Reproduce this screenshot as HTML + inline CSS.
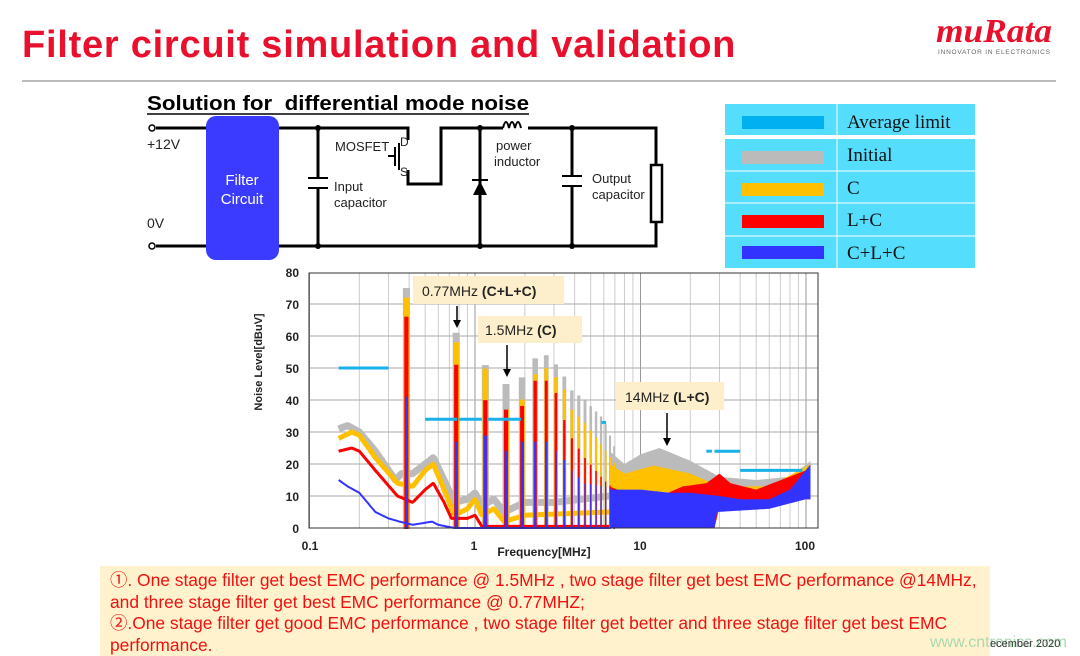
<!DOCTYPE html>
<html><head><meta charset="utf-8"><style>
body{margin:0;width:1080px;height:656px;background:#fff;overflow:hidden;position:relative;font-family:"Liberation Sans",sans-serif}
.t{position:absolute;white-space:nowrap}
</style></head><body>
<div class="t" style="left:22px;top:24px;font-size:38px;font-weight:bold;color:#e8102c;letter-spacing:0.75px">Filter circuit simulation and validation</div>
<div style="position:absolute;left:22px;top:80px;width:1034px;height:2px;background:#bbb"></div>

<svg width="1080" height="656" style="position:absolute;left:0;top:0" id="s">
<text x="936" y="42" font-size="34" font-weight="bold" font-style="italic" fill="#e8102c" font-family="Liberation Serif" textLength="116" lengthAdjust="spacingAndGlyphs">muRata</text>
<text x="938" y="54" font-size="6.5" fill="#666" font-family="Liberation Sans" textLength="112">INNOVATOR IN ELECTRONICS</text>
<text x="147" y="110" font-size="20" font-weight="bold" font-family="Liberation Sans" textLength="382" lengthAdjust="spacingAndGlyphs">Solution for&#160; differential mode noise</text>
<line x1="147" y1="114" x2="529" y2="114" stroke="#000" stroke-width="1.5"/>
<g stroke="#000" stroke-width="3" fill="none">
<path d="M156 128 H408 V140"/><path d="M156 246 H656 V128 H528"/>
<path d="M408 170 V184 H441 V128 H503"/>
<path d="M318 128 V178 M318 188 V246"/>
<path d="M480 128 V246"/><path d="M572 128 V176 M572 186 V246"/>
</g>
<g stroke="#000" stroke-width="2" fill="none">
<path d="M308 178 H328 M308 188 H328 M562 176 H582 M562 186 H582"/>
<path d="M395 147 V166 M399 143 V170 M388 156 H395"/>
<path d="M503 128 q3 -12 6 0 q3 -12 6 0 q3 -12 6 0"/>
</g>
<polygon points="473,195 487,195 480,181" fill="#000"/><line x1="472" y1="180" x2="488" y2="180" stroke="#000" stroke-width="2"/>
<rect x="651" y="165" width="11" height="57" fill="#fff" stroke="#000" stroke-width="2.5"/>
<circle cx="152" cy="128" r="3" fill="#fff" stroke="#000" stroke-width="1.5"/><circle cx="152" cy="246" r="3" fill="#fff" stroke="#000" stroke-width="1.5"/>
<g fill="#000"><circle cx="318" cy="128" r="3"/><circle cx="318" cy="246" r="3"/><circle cx="480" cy="128" r="3"/><circle cx="480" cy="246" r="3"/><circle cx="572" cy="128" r="3"/><circle cx="572" cy="246" r="3"/></g>
<rect x="206" y="116" width="73" height="144" rx="10" fill="#3b3bff"/>
<g font-size="14" font-family="Liberation Sans" fill="#222">
<text x="147" y="149">+12V</text><text x="147" y="228">0V</text>
<text x="335" y="151" font-size="13">MOSFET</text><text x="400" y="146" font-size="12">D</text><text x="400" y="176" font-size="12">S</text>
<text x="334" y="191" font-size="13">Input</text><text x="334" y="207" font-size="13">capacitor</text>
<text x="496" y="150" font-size="13">power</text><text x="494" y="166" font-size="13">inductor</text>
<text x="592" y="183" font-size="13">Output</text><text x="592" y="199" font-size="13">capacitor</text>
</g>
<text x="242" y="185" font-size="15" fill="#fff" text-anchor="middle">Filter</text>
<text x="242" y="204" font-size="15" fill="#fff" text-anchor="middle">Circuit</text>

<g fill="#55ddfd"><rect x="725" y="104" width="250" height="31"/><rect x="725" y="139" width="250" height="129"/></g>
<g stroke="#fff" stroke-width="1"><line x1="837" y1="104" x2="837" y2="268"/><line x1="725" y1="171" x2="975" y2="171"/><line x1="725" y1="203" x2="975" y2="203"/><line x1="725" y1="236" x2="975" y2="236"/></g>
<rect x="742" y="116" width="82" height="13" fill="#00b0f0"/><rect x="742" y="151" width="82" height="13" fill="#bbb"/>
<rect x="742" y="183" width="82" height="13" fill="#ffc000"/><rect x="742" y="215" width="82" height="13" fill="#ff0000"/><rect x="742" y="246" width="82" height="13" fill="#3333ff"/>
<g font-family="Liberation Serif" font-size="19" fill="#111"><text x="847" y="128">Average limit</text><text x="847" y="161">Initial</text><text x="847" y="194">C</text><text x="847" y="226">L+C</text><text x="847" y="259">C+L+C</text></g>

<defs><clipPath id="cp"><rect x="309" y="273" width="509" height="256"/></clipPath></defs>
<g id="grid"></g>
<g id="ser" clip-path="url(#cp)"></g>
<rect x="309" y="273" width="509" height="255" fill="none" stroke="#333" stroke-width="1"/>
<g font-size="12" font-weight="bold" font-family="Liberation Sans" fill="#222" text-anchor="end">
<text x="299" y="277">80</text><text x="299" y="309">70</text><text x="299" y="341">60</text><text x="299" y="373">50</text><text x="299" y="405">40</text><text x="299" y="437">30</text><text x="299" y="469">20</text><text x="299" y="501">10</text><text x="299" y="533">0</text></g>
<g font-size="12" font-weight="bold" font-family="Liberation Sans" fill="#222" text-anchor="middle">
<text x="310" y="550">0.1</text><text x="474" y="550">1</text><text x="640" y="550">10</text><text x="805" y="550">100</text></g>
<text x="544" y="556" font-size="12" font-weight="bold" text-anchor="middle" fill="#222">Frequency[MHz]</text>
<text transform="translate(262,362) rotate(-90)" font-size="11" font-weight="bold" text-anchor="middle" fill="#222">Noise Level[dBuV]</text>
<g fill="#fdefcb"><rect x="413" y="276" width="151" height="28"/><rect x="478" y="316" width="104" height="27"/><rect x="616" y="382" width="108" height="28"/></g>
<g font-size="14" font-family="Liberation Sans" fill="#222"><text x="422" y="296">0.77MHz <tspan font-weight="bold">(C+L+C)</tspan></text><text x="485" y="335">1.5MHz <tspan font-weight="bold">(C)</tspan></text><text x="625" y="402">14MHz <tspan font-weight="bold">(L+C)</tspan></text></g>
<g stroke="#000" stroke-width="1.5"><line x1="457" y1="306" x2="457" y2="322"/><line x1="507" y1="345" x2="507" y2="371"/><line x1="667" y1="413" x2="667" y2="440"/></g>
<g fill="#000"><polygon points="453,320 461,320 457,328"/><polygon points="503,369 511,369 507,377"/><polygon points="663,438 671,438 667,446"/></g>
</svg>

<div style="position:absolute;left:100px;top:566px;width:890px;height:90px;background:#fff2cc"></div>
<div class="t" style="left:110px;top:570px;font-size:17.4px;line-height:21.5px;color:#f01010;font-family:'Liberation Sans','Noto Sans CJK SC',sans-serif">①. One stage filter get best EMC performance @ 1.5MHz , two stage filter get best EMC performance @14MHz,<br>and three stage filter get best EMC performance @ 0.77MHZ;<br>②.One stage filter get good EMC performance , two stage filter get better and three stage filter get best EMC<br>performance.</div>
<div class="t" style="left:930px;top:634px;font-size:16px;color:#aad8b0">www.cntronics.com</div>
<div class="t" style="left:990px;top:638px;font-size:11px;color:#333">ecember 2020</div>

<script>
var NS="http://www.w3.org/2000/svg";
function X(f){return 309.5+165.5*Math.log10(f/0.1)}
function Y(v){return 528-3.2*v}
function el(p,t,a){var e=document.createElementNS(NS,t);for(var k in a)e.setAttribute(k,a[k]);p.appendChild(e);return e}
function ip(pts,f){var l=Math.log10(f);if(f<=pts[0][0])return pts[0][1];for(var i=1;i<pts.length;i++){if(f<=pts[i][0]){var a=Math.log10(pts[i-1][0]),b=Math.log10(pts[i][0]);return pts[i-1][1]+(pts[i][1]-pts[i-1][1])*(l-a)/(b-a)}}return pts[pts.length-1][1]}
var g=document.getElementById('grid');
for(var d=-1;d<=2;d++)for(var k=1;k<10;k++){var f=k*Math.pow(10,d);if(f<0.1||f>108)continue;var x=X(f);el(g,'line',{x1:x,x2:x,y1:273,y2:528,stroke:k==1?'#999':'#ccc','stroke-width':1})}
for(var v=10;v<80;v+=10)el(g,'line',{x1:309,x2:818,y1:Y(v),y2:Y(v),stroke:'#aaa','stroke-width':1});
var S=[
{c:'#bbb',w:7,k:1,base:[[0.15,31],[0.17,32],[0.2,30],[0.25,24],[0.33,15],[0.36,17],[0.42,17],[0.5,20],[0.56,22],[0.65,15],[0.75,8],[0.9,9],[1,11],[1.1,7],[1.3,9],[1.5,5],[2,8],[3,8],[6.5,10]],
pk:[[0.385,75],[0.77,61],[1.15,51],[1.54,45],[1.92,47],[2.3,53],[2.7,54],[3.1,51],[3.5,47],[3.85,43],[4.6,40],[6,34],[7,25]],
top:[[6.5,24],[8,20],[10,23],[13,25],[20,21],[30,16],[50,15],[80,16],[107,21]],bot:[[6.5,0],[28,0],[30,6],[100,10]]},
{c:'#ffc000',w:5,k:0.8,base:[[0.15,28],[0.18,30],[0.2,29],[0.25,22],[0.34,14],[0.42,13],[0.5,18],[0.56,20],[0.65,12],[0.75,4],[0.9,6],[1,9],[1.1,4],[1.3,6],[1.5,2],[2,4],[6.5,5]],
pk:[[0.385,72],[0.77,58],[1.15,50],[1.54,37],[1.92,40],[2.3,48],[2.7,50],[3.1,47],[3.5,43],[3.85,37],[4.6,33],[6,25],[7,20]],
top:[[6.5,20],[8,17],[12,19.5],[20,17],[30,13],[60,13],[107,20]],bot:[[6.5,0],[28,0],[30,6],[100,10]]},
{c:'#ff0000',w:3,k:0.6,base:[[0.15,24],[0.18,25],[0.2,24],[0.25,18],[0.34,10],[0.42,8],[0.5,12],[0.56,14],[0.65,8],[0.72,3],[0.9,3],[1,4],[1.1,0.5],[6.5,0.5]],
pk:[[0.385,66],[0.77,51],[1.15,40],[1.54,37],[1.92,38],[2.3,46],[2.7,46],[3.1,42],[3.5,33],[3.85,28],[4.6,22],[6,15],[7,12]],
top:[[6.5,13],[9,10],[12,9],[18,13],[25,14],[30,17],[35,14],[50,12],[100,18],[107,19]],bot:[[6.5,0],[28,0],[30,7],[100,9]]},
{c:'#3333ff',w:2,k:0.4,base:[[0.15,15],[0.17,13],[0.2,11],[0.25,5],[0.3,3],[0.35,2],[0.42,1],[0.55,2],[0.6,1],[0.75,0],[6.5,0]],
pk:[[0.385,41],[0.77,27],[1.15,29],[1.54,24],[1.92,27],[2.3,27],[2.7,27],[3.1,24],[3.5,21],[3.85,18],[4.6,14],[6,13],[7,12]],
top:[[6.5,12],[10,12],[15,11],[20,11],[30,10],[40,9],[60,9],[80,12],[107,20]],bot:[[6.5,0],[28,0],[29,5],[60,6],[100,9]]}];
var sg=document.getElementById('ser');
S.forEach(function(s){
 var p='';for(var f=0.15;f<=6.5;f*=1.01)p+=(p?'L':'M')+X(f).toFixed(1)+' '+Y(ip(s.base,f)).toFixed(1);
 el(sg,'path',{d:p,fill:'none',stroke:s.c,'stroke-width':s.w,'stroke-linejoin':'round'});
 for(var n=1;n<=18;n++){var f=0.385*n,x=X(f),sp=165.5*Math.log10((n+1)/n);var w=Math.min(7,Math.max(1.5,sp*0.5))*s.k;
  w=Math.max(w,1.2);
  el(sg,'line',{x1:x,x2:x,y1:529,y2:Y(ip(s.pk,f)),stroke:s.c,'stroke-width':w});}
 var a=[],b=[];for(var f=6.5;f<=107.5;f*=1.01){a.push(X(f).toFixed(1)+','+Y(ip(s.top,f)).toFixed(1));b.unshift(X(f).toFixed(1)+','+Y(ip(s.bot,f)).toFixed(1));}
 el(sg,'polygon',{points:a.concat(b).join(' '),fill:s.c});
});
var L=[[0.15,0.3,50],[0.5,0.78,34],[0.8,1.1,34],[1.2,1.9,34],[5.8,6.2,33],[25,27,24],[28,40,24],[40,95,18]];
L.forEach(function(l){el(sg,'line',{x1:X(l[0]),x2:X(l[1]),y1:Y(l[2]),y2:Y(l[2]),stroke:'#1ab0e8','stroke-width':3})});
</script>
</body></html>
